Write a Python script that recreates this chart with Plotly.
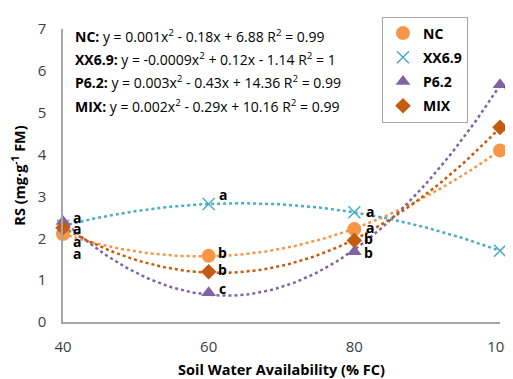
import numpy as np
import plotly.graph_objects as go

x_fc = [40, 60, 80, 100]
series_names = ["NC", "XX6.9", "P6.2", "MIX"]
nc = [2.1, 1.58, 2.22, 4.1]
xx69 = [2.3, 2.82, 2.62, 1.7]
p62 = [2.4, 0.7, 1.68, 5.67]
mix = [2.25, 1.2, 1.95, 4.65]

letters = {
    "NC": ["a", "b", "a", "c"],
    "XX6.9": ["a", "a", "a", "c"],
    "P6.2": ["a", "c", "b", "a"],
    "MIX": ["a", "b", "b", "b"],
}
equations = [
    ("NC:", "y = 0.001x<sup>2</sup> - 0.18x + 6.88 R<sup>2</sup> = 0.99"),
    ("XX6.9:", "y = -0.0009x<sup>2</sup> + 0.12x - 1.14 R<sup>2</sup> = 1"),
    ("P6.2:", "y = 0.003x<sup>2</sup> - 0.43x + 14.36 R<sup>2</sup> = 0.99"),
    ("MIX:", "y = 0.002x<sup>2</sup> - 0.29x + 10.16 R<sup>2</sup> = 0.99"),
]

values = [nc, xx69, p62, mix]
colors = ["#F79646", "#4BACC6", "#8064A2", "#C55A11"]
symbols = ["circle", "x-thin-open", "triangle-up", "diamond"]
sizes = [14, 12, 13, 12]

FONT = "'Open Sans', sans-serif"
OFF = 8  # page body margin
W, H = 513 - OFF, 379 - OFF
L, R, T, B = 63 - OFF, 13, 17 - OFF, 57
PW, PH = W - L - R, H - T - B


def px_x(sx):
    return (sx - OFF - L) / PW


def px_y(sy):
    return (H - B - (sy - OFF)) / PH


fig = go.Figure()

xs = np.linspace(40, 100, 121)
for name, vals, col in zip(series_names, values, colors):
    coef = np.polyfit(x_fc, vals, 2)
    fig.add_trace(go.Scatter(x=xs, y=np.polyval(coef, xs), mode="lines",
                             line=dict(color=col, width=2.5, dash="dot"),
                             showlegend=False, hoverinfo="skip"))

for name, vals, col, sym, sz in zip(series_names, values, colors, symbols, sizes):
    mk = dict(color=col, symbol=sym, size=sz)
    if sym == "x-thin-open":
        mk["line"] = dict(color=col, width=1.5)
    fig.add_trace(go.Scatter(x=x_fc, y=vals, mode="markers", name=f"<b>{name}</b>",
                             marker=mk, cliponaxis=False, legendgroup=name))

# letter label offsets (pixels, from each point to the letter centre)
letter_offsets = {
    "NC": [(14, -19), (14, 3), (16, 2), (8, -1)],
    "XX6.9": [(14, -16), (14, 9), (16, 1), (8, 0)],
    "P6.2": [(14, 4), (14, 4), (14, -1), (8, 0)],
    "MIX": [(14, -1), (14, 2), (14, 2), (8, -1)],
}
for name, vals in zip(series_names, values):
    for i, (xv, yv) in enumerate(zip(x_fc, vals)):
        dx, dy = letter_offsets[name][i]
        fig.add_annotation(x=xv, y=yv, text=f"<b>{letters[name][i]}</b>",
                           showarrow=False, xanchor="center", yanchor="middle",
                           xshift=dx, yshift=dy,
                           font=dict(size=14, color="black", family=FONT))

eq_y = [24, 48, 72, 97]
for (lab, eq), py in zip(equations, eq_y):
    fig.add_annotation(xref="paper", yref="paper",
                       x=px_x(73), y=px_y(py),
                       text=f"<b>{lab}</b> {eq}", showarrow=False,
                       xanchor="left", yanchor="middle",
                       font=dict(size=14, color="black", family=FONT))

fig.update_layout(
    width=W, height=H,
    margin=dict(l=L, r=R, t=T, b=B),
    paper_bgcolor="white", plot_bgcolor="white",
    font=dict(family=FONT, size=14, color="#404040"),
    legend=dict(x=px_x(382), y=px_y(4), xanchor="left", yanchor="top",
                bordercolor="#A6A6A6", borderwidth=1, bgcolor="white",
                font=dict(size=14, color="black", family=FONT),
                tracegroupgap=3, itemwidth=30),
    xaxis=dict(range=[40, 100], tickvals=x_fc, showgrid=False, zeroline=False,
               showline=True, linecolor="#A6A6A6", linewidth=1.5, automargin=False,
               ticks="outside", ticklen=10, tickcolor="rgba(0,0,0,0)",
               tickfont=dict(size=15, color="#404040"),
               title=dict(text="<b>Soil Water Availability (% FC)</b>",
                          font=dict(size=14.5, color="black"))),
    yaxis=dict(range=[0, 7], dtick=1, showgrid=False, zeroline=False,
               showline=True, linecolor="#A6A6A6", linewidth=1.5, automargin=False,
               ticks="outside", ticklen=12, tickcolor="rgba(0,0,0,0)",
               tickfont=dict(size=15, color="#404040"),
               title=dict(text="<b>RS (mg·g<sup>-1</sup> FM)</b>",
                          font=dict(size=14.5, color="black"))),
)

fig.write_html("out.html")
